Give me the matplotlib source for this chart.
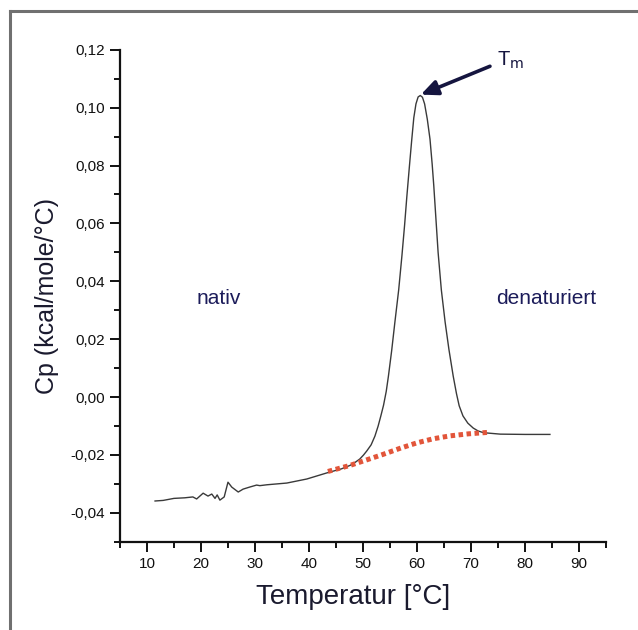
import numpy as np
import matplotlib.pyplot as plt
from matplotlib.lines import Line2D
from matplotlib.ticker import MultipleLocator, FuncFormatter

plt.rcParams['font.family'] = ['Liberation Sans', 'DejaVu Sans']

# DSC-Kurve
temp = [11.5, 13.0, 15.0, 17.0, 18.5, 19.2, 20.4, 21.3, 22.0, 22.6, 23.0, 23.5,
        24.3, 25.0, 25.7, 26.9, 27.8, 29.0, 30.3, 30.9, 32.2, 35.9, 39.6, 43.3,
        46.0, 47.6, 48.5, 49.4, 50.1, 50.7, 51.5, 52.2, 52.8, 53.3, 53.8, 54.3,
        54.7, 55.3, 55.9, 56.6, 57.2, 57.7, 58.1, 58.6, 59.0, 59.4, 59.8, 60.2,
        60.6, 61.0, 61.4, 61.9, 62.4, 62.8, 63.1, 63.5, 63.9, 64.5, 65.2, 65.9,
        66.7, 67.3, 67.8, 68.5, 69.4, 70.4, 71.3, 72.3, 75.4, 80.0, 84.6]
cp = [-0.0359, -0.0357, -0.0350, -0.0348, -0.0345, -0.0352, -0.0332, -0.0342,
      -0.0335, -0.0350, -0.0338, -0.0356, -0.0345, -0.0294, -0.0311, -0.0328,
      -0.0318, -0.0311, -0.0304, -0.0306, -0.0303, -0.0297, -0.0283, -0.0262,
      -0.0248, -0.0236, -0.0226, -0.0214, -0.0200, -0.0186, -0.0165, -0.0135,
      -0.0100, -0.0065, -0.0028, 0.0020, 0.0072, 0.0160, 0.0259, 0.0370,
      0.0488, 0.0595, 0.0690, 0.0800, 0.0885, 0.0965, 0.1013, 0.1037, 0.1042,
      0.1036, 0.1013, 0.0960, 0.0891, 0.0805, 0.0730, 0.0615, 0.0500, 0.0370,
      0.0259, 0.0165, 0.0072, 0.0012, -0.0030, -0.0065, -0.0090, -0.0107,
      -0.0117, -0.0123, -0.0128, -0.0129, -0.0129]

# Basislinie (rot gepunktet)
base_t = [43.5, 47.6, 50.5, 53.7, 57.0, 60.0, 63.0, 66.1, 69.5, 73.1]
base_cp = [-0.0257, -0.0236, -0.0218, -0.0198, -0.0176, -0.0158, -0.0144,
           -0.0134, -0.0127, -0.0122]

fig = plt.figure(figsize=(6.38, 6.3), dpi=100)
ax = fig.add_axes([0.188, 0.140, 0.762, 0.781])

ax.plot(temp, cp, color='#3a3a3a', lw=1.0)
ax.plot(base_t, base_cp, color='#e2553a', lw=3.6, linestyle=(0, (0.9, 0.7)))

ax.set_xlim(5, 95)
ax.set_ylim(-0.05, 0.12)
ax.xaxis.set_minor_locator(MultipleLocator(5))
ax.yaxis.set_minor_locator(MultipleLocator(0.01))
ax.set_xticks([10, 20, 30, 40, 50, 60, 70, 80, 90])
ax.set_yticks([-0.04, -0.02, 0.0, 0.02, 0.04, 0.06, 0.08, 0.10, 0.12])
ax.yaxis.set_major_formatter(FuncFormatter(lambda v, p: f'{v:.2f}'.replace('.', ',').replace('-0,00', '0,00')))

for s in ['top', 'right']:
    ax.spines[s].set_visible(False)
for s in ['left', 'bottom']:
    ax.spines[s].set_linewidth(1.6)
    ax.spines[s].set_color('#111111')
ax.tick_params(which='major', direction='out', length=7, width=1.4, labelsize=11, colors='#111111', pad=4)
ax.tick_params(which='minor', direction='out', length=4, width=1.4, colors='#111111')

ax.set_xlabel('Temperatur [°C]', fontsize=20, color='#1a1a2e', labelpad=14)
ax.xaxis.set_label_coords(0.48, -0.085)
ax.set_ylabel('Cp (kcal/mole/°C)', fontsize=18, color='#1a1a2e', labelpad=8)

ax.text(23.3, 0.032, 'nativ', fontsize=15, color='#1c1c5a', ha='center', va='baseline')
ax.text(84.0, 0.032, 'denaturiert', fontsize=15, color='#1c1c5a', ha='center', va='baseline')

ax.annotate('', xy=(60.7, 0.1045), xytext=(73.5, 0.1143),
            arrowprops=dict(arrowstyle='-|>,head_length=1.0,head_width=0.45',
                            color='#15153f', lw=2.6, shrinkA=0, shrinkB=0))
ax.text(74.8, 0.1165, r'T$_\mathrm{m}$', fontsize=14.5, color='#15153f', ha='left', va='center')

# grauer Rahmen um die Abbildung
fig.add_artist(Line2D([10 / 638, 10 / 638], [0, 1 - 11 / 630], color='#707070', lw=2.2))
fig.add_artist(Line2D([10 / 638, 1], [1 - 11 / 630, 1 - 11 / 630], color='#707070', lw=2.2))

fig.savefig('out.png', dpi=100)
